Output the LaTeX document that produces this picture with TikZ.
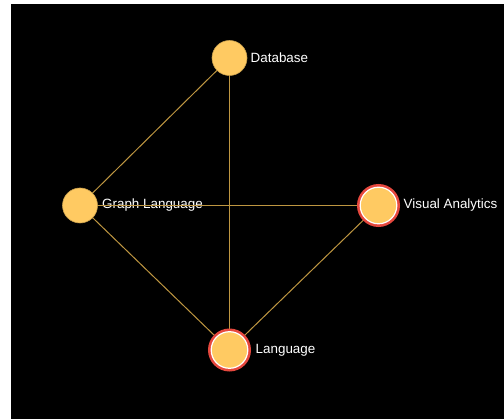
\documentclass[tikz,border=0pt]{standalone}
\usepackage{fontspec}
\setmainfont{Liberation Sans}
\definecolor{nodefill}{RGB}{255,202,98}
\definecolor{edgecol}{RGB}{190,150,65}
\definecolor{ringred}{RGB}{230,72,62}
\tikzset{
  vnode/.style={circle, fill=nodefill, draw=nodefill!80!black, line width=0.6pt, minimum size=35pt, inner sep=0pt},
  hnode/.style={circle, fill=nodefill, draw=ringred, line width=3pt, minimum size=40pt, inner sep=0pt},
  lbl/.style={anchor=west, inner sep=0pt, text=white, font=\fontsize{13.4}{16}\selectfont},
  edge/.style={draw=edgecol, line width=1pt}
}
\begin{document}
\begin{tikzpicture}[x=1pt,y=-1pt]
\useasboundingbox (0,0) rectangle (504,419);
\fill[white] (0,0) rectangle (504,419);
\fill[black] (11,4) rectangle (504,419);
\coordinate (dbc) at (229.5,58);
\coordinate (glc) at (80,205.5);
\coordinate (vac) at (378.5,205.5);
\coordinate (lac) at (229.5,350);
% edges
\draw[edge] (dbc) -- (glc);
\draw[edge] (dbc) -- (lac);
\draw[edge] (glc) -- (lac);
\draw[edge] (vac) -- (lac);
% nodes
\node[vnode] (db) at (dbc) {};
\node[vnode] (gl) at (glc) {};
\node[hnode] (va) at (vac) {};
\node[hnode] (la) at (lac) {};
\draw[white, line width=1.2pt] (va.center) circle (18.3pt);
\draw[white, line width=1.2pt] (la.center) circle (18.3pt);
% labels
\node[lbl] (dbl) at ([xshift=21pt]dbc) {Database};
\node[lbl] (gll) at ([xshift=22pt]glc) {Graph Language};
\node[lbl] (val) at ([xshift=25pt]vac) {Visual Analytics};
\node[lbl] (lal) at ([xshift=26pt]lac) {Language};
\draw[edge] (gl) -- (va);
\end{tikzpicture}
\end{document}
